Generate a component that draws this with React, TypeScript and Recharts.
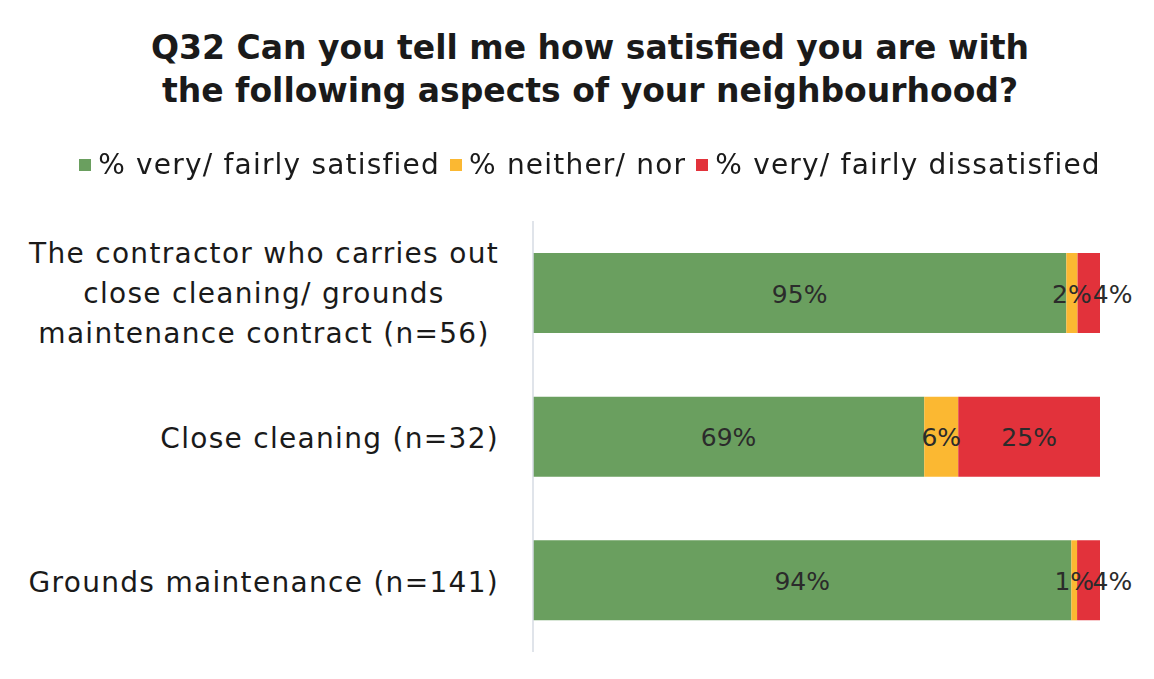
import { BarChart, Bar, XAxis, YAxis, Legend, LabelList } from 'recharts';

const categories = [
  'The contractor who carries out\nclose cleaning/ grounds\nmaintenance contract (n=56)',
  'Close cleaning (n=32)',
  'Grounds maintenance (n=141)',
];
const satisfied = [95, 69, 94];
const neither = [2, 6, 1];
const dissatisfied = [4, 25, 4];

const seriesKeys = ['satisfied', 'neither', 'dissatisfied'];
const seriesNames = ['% very/ fairly satisfied', '% neither/ nor', '% very/ fairly dissatisfied'];
const seriesColors = ['#6a9f5f', '#fbb832', '#e2323b'];

const data = categories.map((name, i) => ({
  name,
  satisfied: satisfied[i],
  neither: neither[i],
  dissatisfied: dissatisfied[i],
}));

const FONT = '"DejaVu Sans", sans-serif';

function CategoryTick(props: any) {
  const { x, y, payload } = props;
  const lines: string[] = String(payload.value).split('\n');
  const common = { fontFamily: FONT, fontSize: 28, fill: '#1a1a1a', letterSpacing: 1.3, dominantBaseline: 'central' as const };
  if (lines.length === 1) {
    return (
      <text x={x - 26} y={y + 2} textAnchor="end" {...common}>
        {lines[0]}
      </text>
    );
  }
  return (
    <g>
      {lines.map((l, i) => (
        <text key={i} x={x - 261} y={y + 1 + (i - (lines.length - 1) / 2) * 40}
          textAnchor="middle" {...common}>
          {l}
        </text>
      ))}
    </g>
  );
}

// small segments: Excel nudges the label to the right so it does not sit on its neighbour
function SegmentLabel(props: any) {
  const { x, y, width, height, value } = props;
  const narrow = width < 40;
  return (
    <text
      x={narrow ? x + width / 2 + 4 : x + width / 2}
      y={y + height / 2 + 1}
      textAnchor={narrow ? 'start' : 'middle'}
      dominantBaseline="central"
      fontFamily={FONT}
      fontSize={25}
      fill="#2b2b2b"
    >
      {`${value}%`}
    </text>
  );
}

function CenterLabel(props: any) {
  const { x, y, width, height, value } = props;
  return (
    <text x={x + width / 2} y={y + height / 2 + 1} textAnchor="middle" dominantBaseline="central"
      fontFamily={FONT} fontSize={25} fill="#2b2b2b">
      {`${value}%`}
    </text>
  );
}

function LegendContent() {
  return (
    <div style={{ display: 'flex', justifyContent: 'center', alignItems: 'center', fontFamily: FONT, fontSize: 28, letterSpacing: 1.2, color: '#1a1a1a' }}>
      {seriesNames.map((n, i) => (
        <span key={n} style={{ display: 'flex', alignItems: 'center', marginRight: 10 }}>
          <span style={{ width: 12, height: 12, background: seriesColors[i], display: 'inline-block', marginRight: 7 }} />
          {n}
        </span>
      ))}
    </div>
  );
}

export default function App() {
  return (
    <div style={{ position: 'fixed', left: 0, top: 0, width: 1154, height: 679, background: '#fff' }}>
      <div style={{
        position: 'absolute', left: 0, top: 26, width: 1180, textAlign: 'center',
        fontFamily: FONT, fontWeight: 700, fontSize: 33,
        lineHeight: '43px', color: '#1a1a1a',
      }}>
        Q32 Can you tell me how satisfied you are with<br />
        the following aspects of your neighbourhood?
      </div>
      <BarChart
        width={1154}
        height={679}
        data={data}
        layout="vertical"
        stackOffset="expand"
        barSize={80}
        margin={{ top: 221, right: 54, bottom: 27, left: 0 }}
      >
        <XAxis type="number" domain={[0, 1]} hide />
        <YAxis
          type="category"
          dataKey="name"
          width={533}
          axisLine={{ stroke: '#d6dbe3', strokeWidth: 1.5 }}
          tickLine={false}
          tick={<CategoryTick />}
          interval={0}
        />
        <Legend
          verticalAlign="middle"
          align="center"
          content={<LegendContent />}
          wrapperStyle={{ top: 148, left: 0, width: 1190 }}
        />
        {seriesKeys.map((k, i) => (
          <Bar key={k} dataKey={k} name={seriesNames[i]} stackId="a" fill={seriesColors[i]} isAnimationActive={false}>
            <LabelList dataKey={k} content={i === 2 ? <SegmentLabel /> : <CenterLabel />} />
          </Bar>
        ))}
      </BarChart>
    </div>
  );
}
